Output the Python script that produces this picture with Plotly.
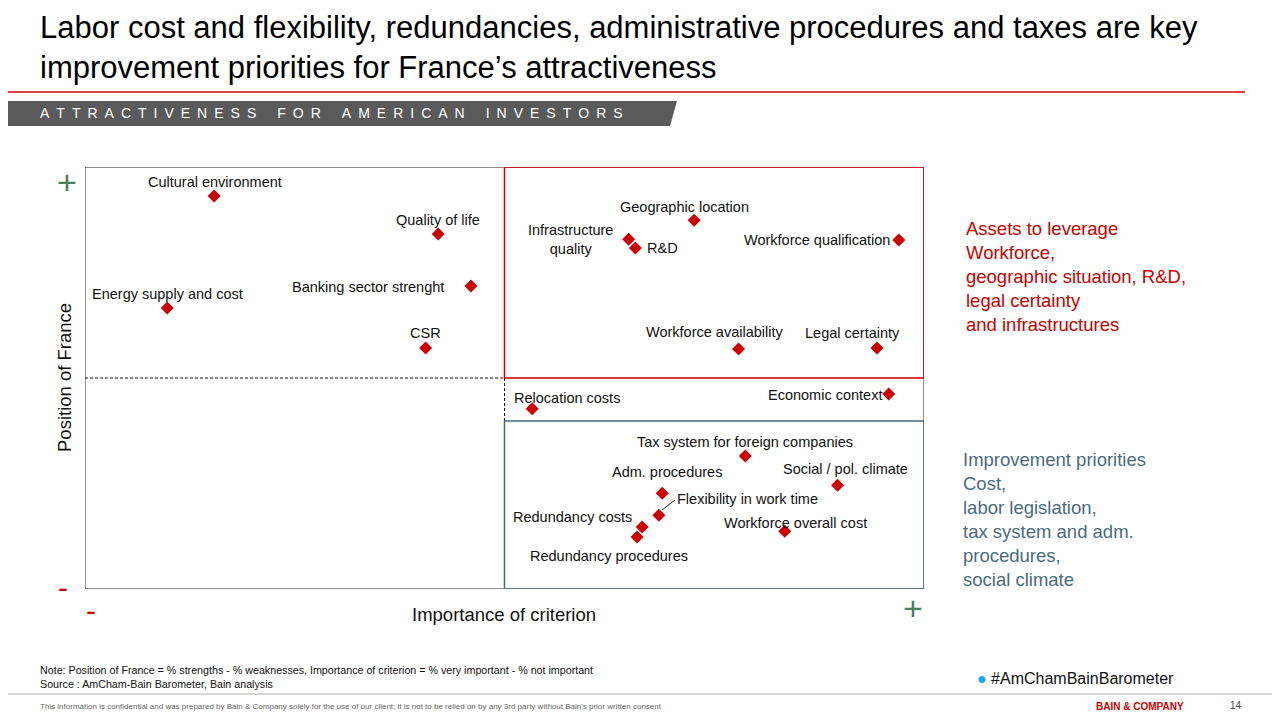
import plotly.graph_objects as go

names = ["Cultural environment","Quality of life","Banking sector strenght","Energy supply and cost","CSR",
         "Geographic location","Infrastructure<br>quality","R&D","Workforce qualification","Workforce availability",
         "Legal certainty","Economic context","Relocation costs","Tax system for foreign companies",
         "Social / pol. climate","Adm. procedures","Flexibility in work time","Redundancy costs",
         "Redundancy procedures","Workforce overall cost"]
importance = [15.4,42.1,46.0,9.8,40.6,72.6,64.8,65.6,97.0,77.9,94.4,95.8,53.3,78.7,89.7,68.8,68.4,66.4,65.8,83.4]
position   = [93.1,84.1,71.8,66.6,57.1,87.4,82.9,80.8,82.7,56.9,57.1,46.2,42.7,31.5,24.6,22.7,17.5,14.7,12.3,13.7]
# label offsets in pixels (dx, dy with +dy = up), anchors
label_off = [(1,14,"center"),(0,14,"center"),(-25,-1,"right"),(0,14,"center"),(0,15,"center"),
             (-10,13,"center"),(-58,0,"center"),(10,0,"left"),(-7,0,"right"),(-24,17,"center"),
             (-25,15,"center"),(-5,-1,"right"),(-20,11,"left"),(0,14,"center"),
             (8,16,"center"),(5,21,"center"),(16,16,"left"),(-70,10,"center"),
             (-28,-19,"center"),(11,8,"center")]

OFF = 8
W, H = 1280 - 2*OFF, 720 - 2*OFF
X0, X1, Y0, Y1 = 85, 924, 167, 589
def px(x): return (x - OFF) / W
def py(y): return 1 - (y - OFF) / H

fig = go.Figure()
fig.add_trace(go.Scatter(x=importance, y=position, mode="markers",
    marker=dict(symbol="diamond", size=10, color="#CC0000"), hoverinfo="skip", showlegend=False))

ann = []
for n, x, y, (dx, dy, anc) in zip(names, importance, position, label_off):
    ann.append(dict(x=x, y=y, xref="x", yref="y", text=n, showarrow=False, xshift=dx, yshift=dy,
                    xanchor=anc, yanchor="middle", font=dict(size=14.5, color="#111"), align="center"))

shapes = []
def dline(x0,y0,x1,y1,color="#222",width=1,dash="solid"):
    shapes.append(dict(type="line",xref="x",yref="y",x0=x0,y0=y0,x1=x1,y1=y1,line=dict(color=color,width=width,dash=dash)))
shapes.append(dict(type="rect",xref="x",yref="y",x0=0,y0=0,x1=100,y1=100,line=dict(color="#222",width=1)))
dline(0,50,50,50,color="#111",dash="3px,2px")
dline(50,39.8,50,50,color="#111",dash="3px,2px")
shapes.append(dict(type="rect",xref="x",yref="y",x0=50,y0=50,x1=100,y1=100,line=dict(color="#CC0000",width=1.5)))
shapes.append(dict(type="rect",xref="x",yref="y",x0=50,y0=0,x1=100,y1=39.8,line=dict(color="#4A6A80",width=1.5)))
shapes.append(dict(type="line",xref="paper",yref="paper",x0=px(662),y0=py(510),x1=px(675),y1=py(500),line=dict(color="#222",width=1)))
shapes.append(dict(type="line",xref="paper",yref="paper",x0=px(0),y0=py(92),x1=px(1245),y1=py(92),line=dict(color="#CC0000",width=1.5)))
shapes.append(dict(type="path",xref="paper",yref="paper",
    path=f"M {px(0)} {py(101)} L {px(677)} {py(101)} L {px(670)} {py(126)} L {px(0)} {py(126)} Z",
    fillcolor="#5A5A5A",line=dict(width=0)))
shapes.append(dict(type="line",xref="paper",yref="paper",x0=px(0),y0=py(694),x1=px(1280),y1=py(694),line=dict(color="#999",width=0.8)))

def pann(x,y,text,size=13,color="#111",xa="left",ya="middle"):
    ann.append(dict(x=px(x),y=py(y),xref="paper",yref="paper",text=text,showarrow=False,
                    xanchor=xa,yanchor=ya,font=dict(size=size,color=color),align="left"))

sp = "\u2002"
banner = (sp*3).join(sp.join(w) for w in ["ATTRACTIVENESS","FOR","AMERICAN","INVESTORS"])
pann(38,48,"Labor cost and flexibility, redundancies, administrative procedures and taxes are key<br>improvement priorities for France’s attractiveness",size=31,color="#000")
pann(38,113,banner,size=14,color="#FFF")
pann(67,182,"+",size=34,color="#4E7D5B",xa="center")
pann(63,587,"-",size=30,color="#CC0000",xa="center")
pann(91,610,"-",size=30,color="#CC0000",xa="center")
pann(913,608,"+",size=34,color="#4E7D5B",xa="center")
pann(504,614,"Importance of criterion",size=18.5,color="#111",xa="center")
ann.append(dict(x=px(65),y=py(378),xref="paper",yref="paper",text="Position of France",showarrow=False,
                textangle=-90,font=dict(size=18.5,color="#111"),xanchor="center",yanchor="middle"))
ann.append(dict(x=px(964),y=py(216),xref="paper",yref="paper",showarrow=False,xanchor="left",yanchor="top",align="left",
    text="Assets to leverage<br>Workforce,<br>geographic situation, R&D,<br>legal certainty<br>and infrastructures",font=dict(size=18.5,color="#CC0000")))
ann.append(dict(x=px(961),y=py(447),xref="paper",yref="paper",showarrow=False,xanchor="left",yanchor="top",align="left",
    text="Improvement priorities<br>Cost,<br>labor legislation,<br>tax system and adm.<br>procedures,<br>social climate",font=dict(size=18.5,color="#4A6A80")))
pann(38,677,"Note: Position of France = % strengths - % weaknesses, Importance of criterion = % very important - % not important<br>Source : AmCham-Bain Barometer, Bain analysis",size=10.7,color="#111")
pann(38,706,"This information is confidential and was prepared by Bain & Company solely for the use of our client; it is not to be relied on by any 3rd party without Bain's prior written consent",size=8,color="#666")
pann(975,678,"<span style='color:#1DA1F2'>●</span> #AmChamBainBarometer",size=16,color="#111")
pann(1140,706,"<b>BAIN & COMPANY</b>",size=10,color="#CC0000",xa="center")
pann(1236,705,"14",size=10,color="#444",xa="center")

fig.update_layout(width=W,height=H,margin=dict(l=0,r=0,t=0,b=0),plot_bgcolor="white",paper_bgcolor="white",
    font=dict(family="Liberation Sans, Arial, sans-serif"),annotations=ann,shapes=shapes,
    xaxis=dict(domain=[px(X0),px(X1)],range=[0,100],visible=False,fixedrange=True),
    yaxis=dict(domain=[py(Y1),py(Y0)],range=[0,100],visible=False,fixedrange=True))
fig.write_html("out.html")
